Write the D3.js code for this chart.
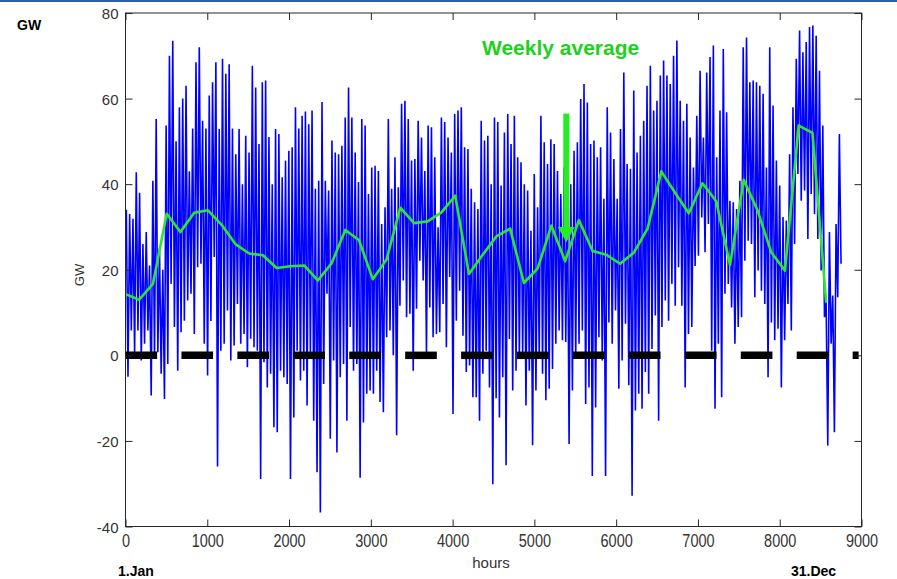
<!DOCTYPE html>
<html>
<head>
<meta charset="utf-8">
<script src="https://cdn.jsdelivr.net/npm/d3@7"></script>
<style>
  body { margin: 0; background: #fff; }
  text { font-family: Arial, "Liberation Sans", sans-serif; }
</style>
</head>
<body>
<svg id="chart" width="897" height="579"></svg>
<script>
let peakGW = [
  34, 33, 31.9, 42.8, 38, 26, 28.8, 21, 40.8, 55.2, 25, 20, 53.7, 70, 73.5, 50, 58, 60, 63, 43,
  53, 68.5, 72, 54.8, 53, 60.7, 63.8, 68.5, 52.9, 69.3, 65.8, 68, 53, 47, 52.9, 40, 51.3, 47.4, 67.7, 62.6,
  49.4, 63.8, 64.2, 51, 40, 52.9, 51.7, 41.6, 45.5, 47.8, 48.6, 58, 53, 56, 57, 54,
  57.2, 38.9, 40.8, 59.2, 40.8, 38.5, 50.2, 47.4, 47, 49, 55.6, 62.6, 55.6, 47.4, 40.5, 55.2, 53.7, 37.7, 43.9, 44.3,
  43.1, 30.7, 34.6, 55.2, 38.9, 46.3, 39.3, 58.8, 59.5, 55.2, 45.5, 45.9, 54.8, 50.9, 43.1, 53.7, 53.3, 46.3, 29.9, 55.6,
  54.5, 50.9, 47.4, 56.4, 57.2, 58, 48.6, 48.2, 38.9, 35.8, 34.2, 54.8, 50.2, 51.3, 40,
  55.6, 54.5, 39.7, 52.1, 56.4, 49.4, 56, 46.3, 45.1, 40, 38.5, 29.1, 42.4, 34.6, 56, 49.8, 44.7, 50.5, 49.4, 43.1,
  37.7, 43.9, 39.7, 40, 47.8, 49.8, 59.9, 63.4, 59.1, 49.4, 50.2, 46.3, 48.6, 36.6, 58, 52.1, 45.9, 36.6, 52.9, 66.1,
  44.7, 43.6, 61.9, 47.4, 51.3, 54.8, 63, 67.7, 57.2, 59.5, 65.4, 68.9, 65.4, 63.4, 70,
  73.6, 59.5, 54.8, 58.8, 50.9, 43.9, 56, 66.5, 50.9, 66.1, 69.7, 72.4, 46.3, 57.2, 71.6, 56.8, 36.1, 35.8, 34.2, 40.8,
  72, 74.3, 63.8, 64.2, 63.8, 63, 61.1, 43.9, 72, 58.4, 45.5, 39.7, 32.3, 31.5, 47, 58, 69.3, 75.9, 70.8, 73.2,
  76.7, 77.1, 74.7, 66.5, 53.7, 12.4, 28.8, 14, 30.7, 51.7
];
let troughGW = [
  -5, 5.8, 0.3, 5.8, -1.2, 2.7, 5.8, -9.4, -0.8, 0.7, -4.3, -10.2, -2, 16.7, 6.6, -3.6, 5.4, 8.1, 12.8, 14.4,
  5, 20.6, 21.4, 2.7, -4.7, 8, 23, -26, 1.1, 2.7, 10.5, -1.2, 2.3, 12, 2.7, 5, -2.8, 3.9, 1.9, 1.1,
  -28.9, -1.6, -7.5, -4.3, -16.8, -18, -3.6, -5.1, -6.7, -28.9, -14.5, 1.1, -5.9, -3.6, -11.7, -0.4,
  -15.3, -27.3, -36.7, -6.7, 14.4, -19.5, -1.2, -22.7, -5.1, -2, -15.3, 6.6, -3.6, -2, -28.6, -15.7, -9, -8.2, -9, -3.6,
  -10.9, -13.3, 4.2, 5.8, 0, -18.7, 11.6, 17.5, 8.9, 9.7, -3.6, 10.9, 22.1, 17.5, 0.3, 11.2, 4.2, 5, 5.4, 12,
  1.9, 18.3, -13.7, 8.1, 15.1, 4.6, -3.9, -2.4, -9.8, -9.8, -15.3, -4.3, 1.1, -7.5, -30.1,
  -10, -14.5, -5.1, -25.7, 3.8, -8.2, -3.6, -0.8, -0.4, -11.7, -3.6, -21, -8.2, -0.4, -4.3, -10.5, -7.8, -3.2, 2.7, 5.8,
  3.5, 3.1, -20.7, -8.2, -0.8, 2.7, 5.8, -11.4, -7.5, -28.2, -12.2, 4.2, -1.2, -28.2, 7.7, 2.7, 10.5, -7.8, -1.2, 7.4,
  -7, -32.8, -12.9, -9, -12.5, -3.9, -9, 1.5, 9.3, -15.3, 6.6, 12.8, 8.1, 16.7, 11.6,
  20.6, 11.6, -7.5, 5, 6.6, 20.9, 23.3, 32.2, 24.1, 30.7, 1.1, -12.5, 2.7, -9.8, 14.4, 16.7, 11.2, 2.7, 6.6, 8.9,
  22.1, 26.8, 26, 13.6, 19.8, 15.1, 12, -5.1, 7.7, 3.5, 6.2, -7.5, 3.5, 12, 5.8, 26, 42.4, 36.1, 38.5, 27.2,
  37.7, 33, 27.2, 19.8, 8.9, -21.1, 2.7, -18, 13.6, 21.4
];
let hoursInYear = 8760;

// weekly average, one value per 168 h
let weekHours = 168;
let weeklyAvg = [
  14.3, 13, 16.7, 33.1, 28.8, 33.3, 33.9, 30.5, 26, 23.8, 23.4, 20.4, 20.8, 21, 17.5, 21.5, 29.3, 26.9, 17.8, 22.4,
  34.5, 30.9, 31.3, 33.4, 37.3, 19, 23.5, 27.8, 29.6, 16.9, 20.3, 30.3, 22, 31.6, 24.4, 23.5, 21.4, 24, 29.6, 43,
  38, 33.2, 40.2, 36, 21.1, 41, 33.9, 24.1, 19.8, 53.7, 52, 12.3
];

// black bars on the zero line (hours)
let barStart = [0, 684, 1368, 2052, 2736, 3420, 4104, 4788, 5472, 6156, 6840, 7524, 8208, 8892];
let barEnd = [387, 1071, 1755, 2439, 3123, 3807, 4491, 5175, 5859, 6543, 7227, 7911, 8595, 8965];

let xTicks = [0, 1000, 2000, 3000, 4000, 5000, 6000, 7000, 8000, 9000];
let yTicks = [-40, -20, 0, 20, 40, 60, 80];

let arrowHour = 5390;
let arrowTop = 56.5, arrowHeadBase = 30, arrowTip = 26.4;

let svg = d3.select("#chart");
let plotL = 125.5, plotR = 861.5, plotT = 13, plotB = 526.5;

let x = d3.scaleLinear().domain([0, 9000]).range([plotL, plotR]);
let y = d3.scaleLinear().domain([-40, 80]).range([plotB, plotT]);

// header strip of the slide
svg.append("rect").attr("x", 0).attr("y", 0).attr("width", 897).attr("height", 2).attr("fill", "#2f5ea8");

svg.append("defs").append("clipPath").attr("id", "plotclip")
  .append("rect").attr("x", plotL).attr("y", plotT).attr("width", plotR - plotL).attr("height", plotB - plotT);

let plot = svg.append("g").attr("clip-path", "url(#plotclip)");

// blue hourly series: each chunk drawn peak then trough
let step = hoursInYear / peakGW.length;
let pts = [];
peakGW.forEach(function (p, i) {
  pts.push([i * step + step * 0.25, p]);
  pts.push([i * step + step * 0.75, troughGW[i]]);
});
plot.append("path")
  .datum(pts)
  .attr("fill", "none")
  .attr("stroke", "#0000ff")
  .attr("stroke-width", 1.6)
  .attr("d", d3.line().x(d => x(d[0])).y(d => y(d[1])));

// black bars on zero
plot.selectAll(".bar")
  .data(barStart)
  .enter().append("line")
  .attr("class", "bar")
  .attr("x1", d => x(d))
  .attr("x2", (d, i) => x(barEnd[i]))
  .attr("y1", y(0)).attr("y2", y(0))
  .attr("stroke", "#000")
  .attr("stroke-width", 7.5);

// weekly average
plot.append("path")
  .datum(weeklyAvg)
  .attr("fill", "none")
  .attr("stroke", "#2ee62e")
  .attr("stroke-width", 2.6)
  .attr("stroke-linejoin", "round")
  .attr("d", d3.line().x((d, i) => x(i * weekHours)).y(d => y(d)));

// axes, MATLAB style ticks pointing inward
let fmt = d => String(d);
let gB = svg.append("g").attr("transform", "translate(0," + plotB + ")")
  .call(d3.axisBottom(x).tickValues(xTicks).tickSizeInner(-7).tickSizeOuter(0).tickFormat(fmt));
let gT = svg.append("g").attr("transform", "translate(0," + plotT + ")")
  .call(d3.axisTop(x).tickValues(xTicks).tickSizeInner(-7).tickSizeOuter(0).tickFormat(""));
let gL = svg.append("g").attr("transform", "translate(" + plotL + ",0)")
  .call(d3.axisLeft(y).tickValues(yTicks).tickSizeInner(-7).tickSizeOuter(0).tickFormat(fmt));
let gR = svg.append("g").attr("transform", "translate(" + plotR + ",0)")
  .call(d3.axisRight(y).tickValues(yTicks).tickSizeInner(-7).tickSizeOuter(0).tickFormat(""));

[gB, gT, gL, gR].forEach(function (g) {
  g.select(".domain").remove();
  g.selectAll("line").attr("stroke", "#262626");
});
gB.selectAll("text")
  .attr("y", 0).attr("dy", null)
  .attr("transform", "translate(0,20.5) scale(1,1.25)")
  .attr("font-size", 14.5).attr("fill", "#333").attr("font-family", null);
gL.selectAll("text")
  .attr("x", 0).attr("dy", null)
  .attr("transform", "translate(-7,5.5)")
  .attr("font-size", 15).attr("fill", "#333").attr("font-family", null);

svg.append("rect")
  .attr("x", plotL).attr("y", plotT).attr("width", plotR - plotL).attr("height", plotB - plotT)
  .attr("fill", "none").attr("stroke", "#262626").attr("stroke-width", 1);

// axis labels
svg.append("text").attr("x", 491).attr("y", 568).attr("text-anchor", "middle")
  .attr("font-size", 15).attr("fill", "#333").text("hours");
svg.append("text").attr("transform", "translate(84,275) rotate(-90)").attr("text-anchor", "middle")
  .attr("font-size", 13).attr("fill", "#333").text("GW");

svg.append("text").attr("x", 17).attr("y", 30).attr("font-size", 14).attr("font-weight", "bold").text("GW");
svg.append("text").attr("x", 118).attr("y", 576).attr("font-size", 14).attr("font-weight", "bold").text("1.Jan");
svg.append("text").attr("x", 791).attr("y", 576).attr("font-size", 14).attr("font-weight", "bold").text("31.Dec");

// annotation
svg.append("text").attr("x", 482).attr("y", 54.5).attr("font-size", 21).attr("font-weight", "bold")
  .attr("fill", "#1fd01f").text("Weekly average");
let ax = x(arrowHour);
svg.append("rect").attr("x", ax - 3).attr("y", y(arrowTop)).attr("width", 6)
  .attr("height", y(arrowHeadBase) - y(arrowTop) + 1).attr("fill", "#22ee22");
svg.append("path")
  .attr("d", "M" + (ax - 8.5) + "," + y(arrowHeadBase) + "L" + (ax + 8.5) + "," + y(arrowHeadBase) + "L" + ax + "," + y(arrowTip) + "Z")
  .attr("fill", "#22ee22");
</script>
</body>
</html>
